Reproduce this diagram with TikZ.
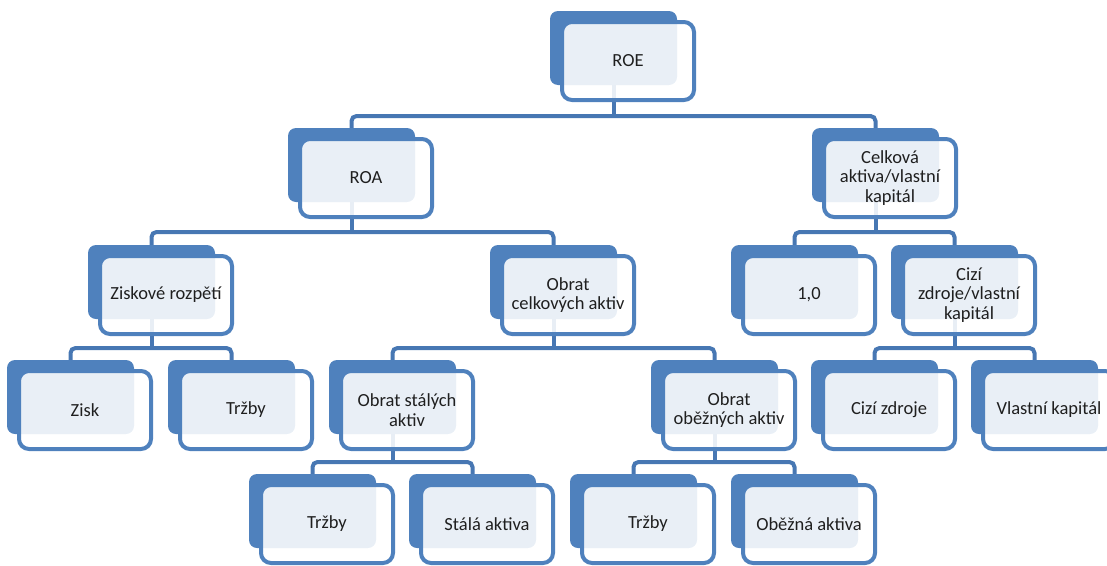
\documentclass[tikz,border=0pt]{standalone}
\usepackage{fontspec}
\setmainfont{Carlito}
\definecolor{sablue}{HTML}{4F81BD}
\definecolor{connblue}{HTML}{4777B3}
\pgfdeclarelayer{bg}
\pgfsetlayers{bg,main}
\tikzset{
  backbox/.style={rectangle, fill=sablue, draw=none, rounded corners=8pt,
    minimum width=127pt, minimum height=74pt, inner sep=0pt},
  frontbox/.style={rectangle, draw=sablue, line width=4pt, fill=white, fill opacity=0.88,
    text opacity=1, rounded corners=10pt, minimum width=132pt, minimum height=78pt,
    inner sep=2pt, align=center, font=\fontsize{18.5}{19.5}\selectfont, text=black!88},
  conn/.style={draw=connblue, line width=4pt, rounded corners=5pt}
}
\newcommand\orgbox[4]{%
  \node[backbox] (#1B) at (#2+63.5,#3+37) {};
  \node[frontbox] (#1) at (#2+78,#3+50) {#4};}
\newcommand\orgconn[5]{%
  \coordinate (#1bar) at (#2,#3);
  \draw[conn] (#1B.south) -- (#1bar);
  \draw[conn] (#4B.north) -- (#4B.north |- #1bar) -- (#5B.north |- #1bar) -- (#5B.north);}
\begin{document}
\begin{tikzpicture}[x=1pt,y=-1pt]
\useasboundingbox (0,0) rectangle (1107,565);
% level 0
\orgbox{roe}{550}{11}{ROE}
% level 1
\orgbox{roa}{288}{128}{ROA}
\orgbox{cel}{812}{128}{Celková\\aktiva/vlastní\\kapitál}
% level 2
\orgbox{zis}{88}{245}{Ziskové rozpětí}
\orgbox{obc}{490}{245}{Obrat\\celkových aktiv}
\orgbox{one}{731}{245}{1,0}
\orgbox{ciz}{891}{245}{Cizí\\zdroje/vlastní\\kapitál}
% level 3
\orgbox{zisk}{7}{360}{Zisk}
\orgbox{trza}{168}{360}{Tržby}
\orgbox{obs}{329}{360}{Obrat stálých\\aktiv}
\orgbox{obo}{651}{360}{Obrat\\oběžných aktiv}
\orgbox{cizz}{811}{360}{Cizí zdroje}
\orgbox{vk}{971}{360}{Vlastní kapitál}
% level 4
\orgbox{trzb}{249}{474}{Tržby}
\orgbox{sta}{409}{474}{Stálá aktiva}
\orgbox{trzc}{570}{474}{Tržby}
\orgbox{obe}{731}{474}{Oběžná aktiva}
\begin{pgfonlayer}{bg}
\orgconn{roe}{613.5}{116}{roa}{cel}
\orgconn{roa}{351.5}{232}{zis}{obc}
\orgconn{cel}{875.5}{232}{one}{ciz}
\orgconn{zis}{151.5}{348}{zisk}{trza}
\orgconn{obc}{553.5}{348}{obs}{obo}
\orgconn{ciz}{954.5}{348}{cizz}{vk}
\orgconn{obs}{392.5}{462}{trzb}{sta}
\orgconn{obo}{714.5}{462}{trzc}{obe}
\end{pgfonlayer}
\end{tikzpicture}
\end{document}
